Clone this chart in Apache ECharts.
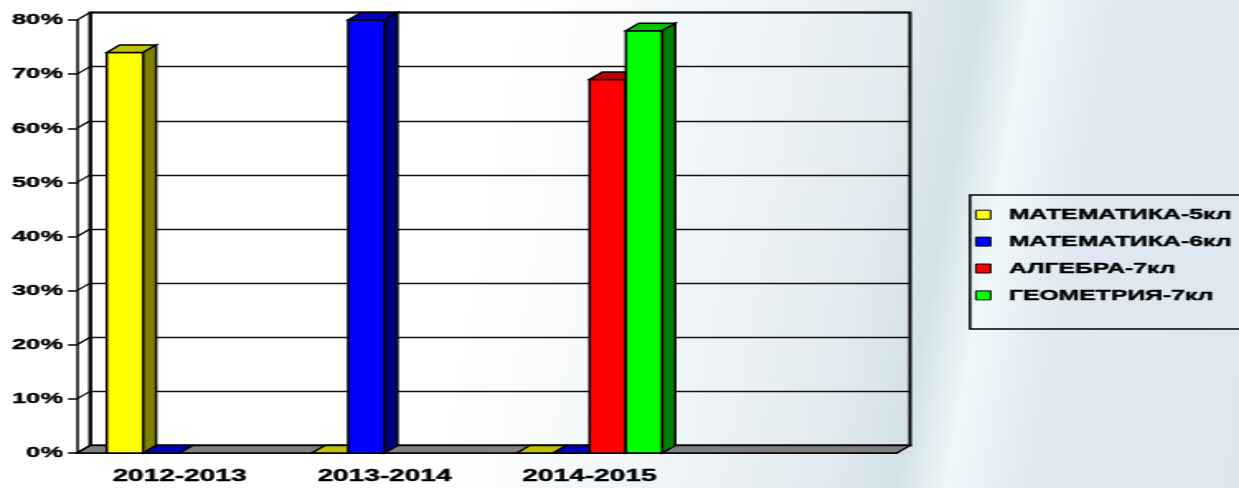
<!DOCTYPE html>
<html>
<head>
<meta charset="utf-8">
<script src="https://cdn.jsdelivr.net/npm/echarts@6/dist/echarts.min.js"></script>
<style>
html, body { margin: 0; padding: 0; width: 1239px; height: 488px; overflow: hidden; }
body {
  background: linear-gradient(100deg, #ffffff 0%, #ffffff 38%, #f1f5f8 55%, #e2ebf0 68%, #d3e2e8 74%, #eef7fa 78%, #e0e9f1 84%, #dce7f0 100%);
}
/* the picture is stretched sideways, so the chart is drawn narrow and widened */
#main { width: 751px; height: 488px; transform: scaleX(1.65); transform-origin: 0 0; }
</style>
</head>
<body>
<div id="main"></div>
<script>
var S = 1.65;
var DX = 13 / S, DY = -7.5;

var cats = ['2012-2013', '2013-2014', '2014-2015', ''];
var names = ['МАТЕМАТИКА-5кл', 'МАТЕМАТИКА-6кл', 'АЛГЕБРА-7кл', 'ГЕОМЕТРИЯ-7кл'];
var mat5 = [74, 0, 0, null];
var mat6 = [0, 80, 0, null];
var alg7 = [null, null, 69, null];
var geo7 = [null, null, 78, null];
var yTicks = [0, 10, 20, 30, 40, 50, 60, 70, 80];

var front = ['#ffff00', '#0000ff', '#ff0000', '#00ff00'];
var tops = ['#c0c000', '#0000c0', '#c00000', '#00c000'];
var sides = ['#808000', '#000080', '#800000', '#008000'];

var font = 'Liberation Sans';
var myChart = echarts.init(document.getElementById('main'));

// 3d column: front, top, right side
function barItem(i) {
  return function (params, api) {
    var v = api.value(1);
    var band = api.size([1, 0])[0];
    var bw = band * 0.71 / 4;
    var c = api.coord([api.value(0), v]);
    var b = api.coord([api.value(0), 0]);
    var x0 = c[0] - 2 * bw + i * bw, x1 = x0 + bw, yt = c[1], yb = b[1];
    var st = { stroke: '#000', lineWidth: 1.5 };
    var top = {
      type: 'polygon',
      shape: { points: [[x0, yt], [x1, yt], [x1 + DX, yt + DY], [x0 + DX, yt + DY]] },
      style: Object.assign({ fill: tops[i] }, st)
    };
    if (v === 0) return { type: 'group', children: [top] };
    return {
      type: 'group',
      children: [
        { type: 'rect', shape: { x: x0, y: yt, width: bw, height: yb - yt }, style: Object.assign({ fill: front[i] }, st) },
        top,
        {
          type: 'polygon',
          shape: { points: [[x1, yt], [x1 + DX, yt + DY], [x1 + DX, yb + DY], [x1, yb]] },
          style: Object.assign({ fill: sides[i] }, st)
        }
      ]
    };
  };
}

function toData(arr) {
  var out = [];
  arr.forEach(function (v, k) { if (v !== null) out.push([k, v]); });
  return out;
}

var series = [
  {
    // floor
    type: 'custom', xAxisIndex: 1, yAxisIndex: 1, z: 1, silent: true,
    data: [[0, 0]],
    renderItem: function (params, api) {
      var cs = params.coordSys;
      var yb = cs.y + cs.height;
      return {
        type: 'polygon',
        shape: { points: [[cs.x, yb], [cs.x + cs.width, yb], [cs.x + cs.width + DX, yb + DY], [cs.x + DX, yb + DY]] },
        style: { fill: '#808080', stroke: '#000', lineWidth: 1.4 }
      };
    }
  },
  {
    // left wall lines from the front ticks to the back grid
    type: 'custom', xAxisIndex: 1, yAxisIndex: 1, z: 1, silent: true,
    data: yTicks.map(function (t) { return [0, t]; }),
    renderItem: function (params, api) {
      var cs = params.coordSys;
      var y = api.coord([0, api.value(1)])[1];
      return {
        type: 'line',
        shape: { x1: cs.x, y1: y, x2: cs.x + DX, y2: y + DY },
        style: { stroke: '#000', lineWidth: 1.3 }
      };
    }
  }
];

[mat5, mat6, alg7, geo7].forEach(function (arr, i) {
  series.push({
    name: names[i], type: 'custom', xAxisIndex: 1, yAxisIndex: 1, z: 2,
    encode: { x: 0, y: 1 },
    itemStyle: { color: front[i] },
    data: toData(arr),
    renderItem: barItem(i)
  });
});

var labelText = { color: '#000', fontFamily: font, fontWeight: 'bold', textBorderColor: '#000', textBorderWidth: 0.4 };

var option = {
  animation: false,
  grid: [
    { left: 77 / S + DX, top: 20 + DY, width: 820 / S, height: 433, outerBoundsMode: 'none', show: true, borderColor: '#000', borderWidth: 2, backgroundColor: 'transparent' },
    { left: 77 / S, top: 20, width: 820 / S, height: 433, outerBoundsMode: 'none' }
  ],
  xAxis: [
    { gridIndex: 0, type: 'value', min: 0, max: 1, show: false },
    {
      gridIndex: 1, type: 'category', data: cats, boundaryGap: true,
      axisLine: { lineStyle: { color: '#000', width: 1.5 } },
      axisTick: { length: 8, lineStyle: { color: '#000', width: 1.5 } },
      axisLabel: Object.assign({ fontSize: 17, margin: 15 }, labelText)
    }
  ],
  yAxis: [
    {
      gridIndex: 0, type: 'value', min: 0, max: 80, interval: 10,
      axisLine: { show: true, lineStyle: { color: '#000', width: 1.5 } },
      axisTick: { show: false }, axisLabel: { show: false },
      splitLine: { lineStyle: { color: '#111', width: 1.3 } }
    },
    {
      gridIndex: 1, type: 'value', min: 0, max: 80, interval: 10,
      axisLine: { show: true, lineStyle: { color: '#000', width: 1.5 } },
      axisTick: { show: true, length: 5.5, lineStyle: { color: '#000', width: 1.5 } },
      splitLine: { show: false },
      axisLabel: Object.assign({ formatter: '{value}%', fontSize: 15.5, margin: 8.5 }, labelText)
    }
  ],
  legend: {
    orient: 'vertical', left: 970 / S, top: 195,
    padding: [12, 40, 26, 3],
    borderColor: '#000', borderWidth: 1.5,
    icon: 'rect', itemWidth: 9, itemHeight: 9, itemGap: 11.5,
    textStyle: Object.assign({ fontSize: 15, padding: [0, 0, 0, 6] }, labelText),
    data: names.map(function (n, i) {
      return { name: n, itemStyle: { color: front[i], borderColor: '#000', borderWidth: 1 } };
    })
  },
  series: series
};

myChart.setOption(option);
</script>
</body>
</html>
